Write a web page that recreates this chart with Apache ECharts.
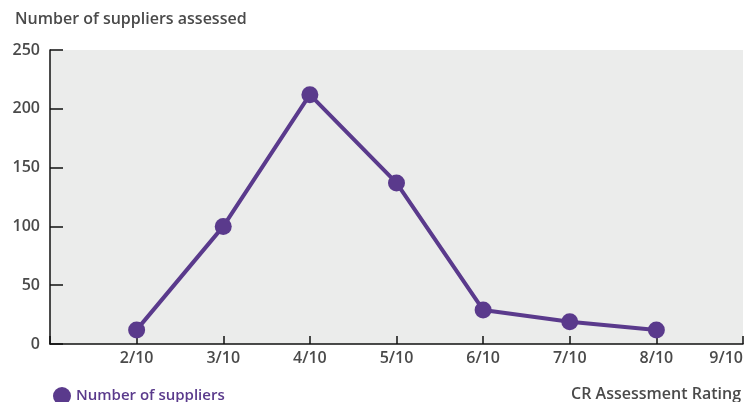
<!DOCTYPE html>
<html>
<head>
<meta charset="utf-8">
<script src="https://cdn.jsdelivr.net/npm/echarts@6/dist/echarts.min.js"></script>
<style>
  html, body { margin: 0; padding: 0; background: #fff; }
  #chart { width: 747px; height: 402px; }
</style>
</head>
<body>
<div id="chart"></div>
<script>
// ratings along x (1/10 sits on the y axis, unlabelled)
var ratings = ['1/10', '2/10', '3/10', '4/10', '5/10', '6/10', '7/10', '8/10', '9/10'];
var suppliers = [null, 12, 100, 212, 137, 29, 19, 12, null];
var yTicks = [0, 50, 100, 150, 200, 250];

var font = 'Open Sans';
var purple = '#5a3a8c';
var grey = '#4a4a4a';

var chart = echarts.init(document.getElementById('chart'));
chart.setOption({
    backgroundColor: '#fff',
    textStyle: { fontFamily: font },
    title: [
        {
            text: 'Number of suppliers assessed',
            left: 10, top: 6,
            textStyle: { fontSize: 16, fontWeight: 600, color: grey, fontFamily: font }
        },
        {
            text: 'CR Assessment Rating',
            right: 1, top: 381,
            textStyle: { fontSize: 16, fontWeight: 600, color: grey, fontFamily: font }
        }
    ],
    legend: {
        left: 48, top: 382,
        icon: 'circle',
        itemWidth: 18, itemHeight: 18,
        itemGap: 6,
        textStyle: { color: purple, fontSize: 15, fontWeight: 600, fontFamily: font },
        data: ['Number of suppliers']
    },
    grid: {
        left: 50, right: 4, top: 50, bottom: 58,
        outerBoundsMode: 'none',
        show: true, backgroundColor: '#ebeceb', borderWidth: 0
    },
    xAxis: {
        type: 'category',
        data: ratings,
        boundaryGap: false,
        axisLine: { lineStyle: { color: '#111', width: 1.5 } },
        axisTick: { inside: true, length: 8, lineStyle: { color: '#111', width: 1.5 } },
        axisLabel: {
            color: grey, fontSize: 16, fontWeight: 600, margin: 6,
            alignMaxLabel: 'right',
            formatter: function (v, i) { return i === 0 ? '' : v; }
        },
        splitLine: { show: false }
    },
    yAxis: {
        type: 'value',
        min: yTicks[0], max: yTicks[yTicks.length - 1], interval: 50,
        axisLine: { show: true, lineStyle: { color: '#111', width: 1.5 } },
        axisTick: { show: true, inside: true, length: 13, lineStyle: { color: '#111', width: 1.5 } },
        axisLabel: { color: grey, fontSize: 16, fontWeight: 600, margin: 10 },
        splitLine: { show: false }
    },
    series: [{
        name: 'Number of suppliers',
        type: 'line',
        data: suppliers,
        symbol: 'circle',
        symbolSize: 17,
        lineStyle: { color: purple, width: 4 },
        itemStyle: { color: purple },
        z: 5
    }]
});
</script>
</body>
</html>
